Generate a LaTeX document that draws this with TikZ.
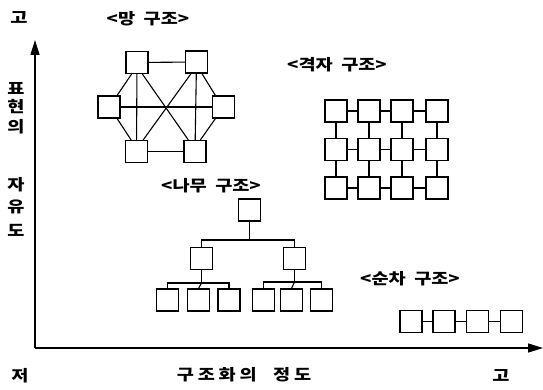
\documentclass[tikz,border=0pt]{standalone}
\usepackage{fontspec}
\newfontfamily\kr[FakeStretch=1.2]{Noto Sans CJK KR}
\usetikzlibrary{arrows.meta}
\begin{document}
\begin{tikzpicture}[x=1pt,y=-1pt,
  bx/.style={draw,line width=1.1pt,minimum width=22pt,minimum height=22pt,inner sep=0pt},
  ln/.style={line width=1.1pt},
  axis/.style={line width=1.5pt,-{Triangle[length=15pt,width=9pt]}},
  lbl/.style={font=\kr\bfseries\fontsize{15.5}{15.5}\selectfont,inner sep=0pt},
  ax/.style={font=\kr\bfseries\fontsize{15.5}{15.5}\selectfont,inner sep=0pt}]
\useasboundingbox[fill=white] (0,0) rectangle (543,390);
% axes
\coordinate (O) at (35,348);
\coordinate (Yt) at (35,40);
\coordinate (Xr) at (543,348);
\draw[axis] (O) -- (Yt);
\draw[axis] (O) -- (Xr);
% axis labels
\node[ax] (g1) at (19,18) {고};
\node[ax] (y1) at (16,88) {표};
\node[ax] (y2) at (16,107) {현};
\node[ax] (y3) at (16,127) {의};
\node[ax] (y4) at (16,185) {자};
\node[ax] (y5) at (16,207) {유};
\node[ax] (y6) at (16,230) {도};
\node[ax] (lo) at (20,376) {저};
\node[ax] (xl) at (244,375) {\addfontfeature{LetterSpace=25}구조화의\ \ 정도};
\node[ax] (g2) at (501,376) {고};
% mesh
\node[lbl] (lm) at (148,19) {<망\ \ 구조>};
\node[bx] (TL) at (137,62.5) {};
\node[bx] (TR) at (196.5,62) {};
\node[bx] (L) at (109,107) {};
\node[bx] (R) at (223.5,107) {};
\node[bx] (BL) at (136.5,151.5) {};
\node[bx] (BR) at (195,151.5) {};
\draw[ln] (TL) -- (TR);
\draw[ln] (BL) -- (BR);
\draw[ln] (L) -- (R);
\draw[ln] (TL) -- (BL);
\draw[ln] (TR) -- (BR);
\draw[ln] (TL.-115) -- (L.55);
\draw[ln] (L.-55) -- (BL.115);
\draw[ln] (TR.-65) -- (R.125);
\draw[ln] (R.-125) -- (BR.65);
\draw[ln] (TL.-65) -- (BR.120);
\draw[ln] (TR.-115) -- (BL.60);
% lattice
\node[lbl] (lg) at (337,65) {<격자\ \ 구조>};
\foreach \r/\y in {1/111,2/149.5,3/188}{
  \foreach \c/\x in {1/336,2/369,3/402,4/437}{
    \node[bx] (g\r\c) at (\x,\y) {};
  }
}
\foreach \r in {1,2,3}{
  \draw[ln] (g\r1) -- (g\r2);
  \draw[ln] (g\r2) -- (g\r3);
  \draw[ln] (g\r3) -- (g\r4);
}
\foreach \c in {1,2,3,4}{
  \draw[ln] (g1\c) -- (g2\c);
  \draw[ln] (g2\c) -- (g3\c);
}
% tree
\node[lbl] (lt) at (211,186) {<나무\ \ 구조>};
\node[bx] (t0) at (249.5,210) {};
\node[bx] (ta) at (201.5,258.5) {};
\node[bx] (tb) at (294.5,258.5) {};
\node[bx] (a1) at (167.5,300) {};
\node[bx] (a2) at (198.5,300) {};
\node[bx] (a3) at (229,300) {};
\node[bx] (b1) at (263.5,300) {};
\node[bx] (b2) at (291.5,300) {};
\node[bx] (b3) at (321.5,300) {};
\coordinate (j0) at (249.5,240);
\coordinate (ja) at (201.5,283);
\coordinate (jb) at (294.5,282);
\draw[ln] (t0.south) -- (j0);
\draw[ln] (ta.north) |- (j0) -| (tb.north);
\draw[ln] (ta.south) -- (ja);
\draw[ln] (a1.north) |- (ja) -| (a3.north);
\draw[ln] (a2.north) -- (ja);
\draw[ln] (tb.south) -- (jb);
\draw[ln] (b1.north) |- (jb) -| (b3.north);
\draw[ln] (b2.north) -- (jb);
% sequence
\node[lbl] (ls) at (410,279) {<순차\ \ 구조>};
\node[bx] (s1) at (411,321.5) {};
\node[bx] (s2) at (444,321.5) {};
\node[bx] (s3) at (477.5,321.5) {};
\node[bx] (s4) at (511.5,321.5) {};
\draw[ln] (s1) -- (s2);
\draw[ln] (s2) -- (s3);
\draw[ln] (s3) -- (s4);
\end{tikzpicture}
\end{document}
